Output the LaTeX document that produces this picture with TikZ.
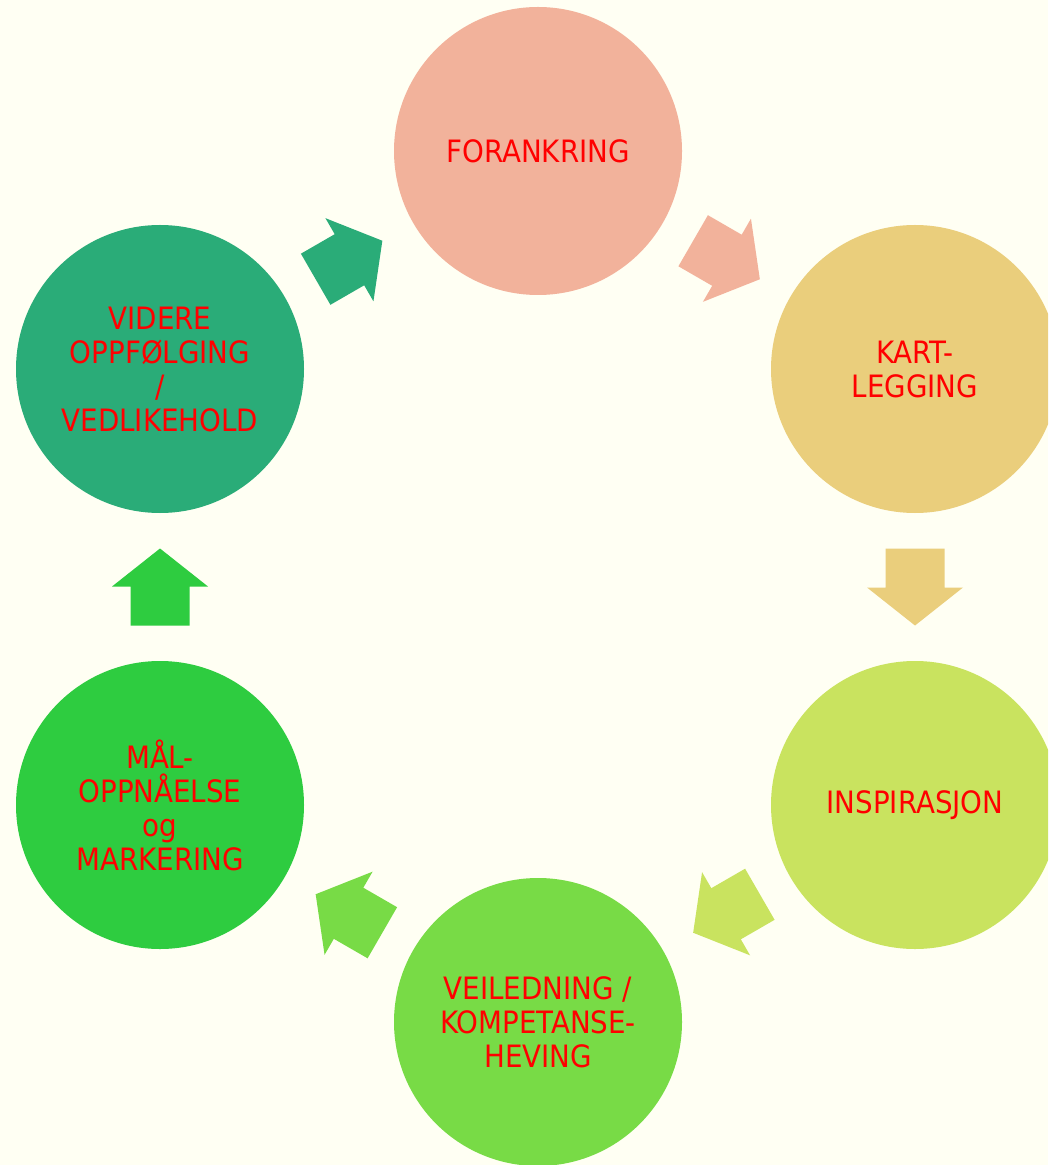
\documentclass[tikz,border=0pt]{standalone}
\usepackage{fontspec}
\setmainfont{DejaVu Sans Condensed}
\usetikzlibrary{calc}
\definecolor{bakgrunn}{HTML}{FFFFF3}
\definecolor{forankring}{HTML}{F2B29B}
\definecolor{kartlegging}{HTML}{EACE7C}
\definecolor{inspirasjon}{HTML}{C9E35F}
\definecolor{veiledning}{HTML}{78DB46}
\definecolor{maal}{HTML}{2ECC40}
\definecolor{videre}{HTML}{2AAC78}
\begin{document}
\begin{tikzpicture}[x=0.5pt,y=-0.5pt,
	sirkel/.style={circle,minimum size=144pt,inner sep=0pt,align=center,text=red,
		font=\fontsize{15.4}{17}\selectfont},
	pil/.pic={\path[pic actions] (-38.5,-29.5) -- (0.5,-29.5) -- (0.5,-48) -- (38.5,0) 
		-- (0.5,48) -- (0.5,29.5) -- (-38.5,29.5) -- cycle;}]
	\clip (0,0) rectangle (1048,1165);
	\fill[bakgrunn] (0,0) rectangle (1048,1165);
	
	%Sirkler
	\node[sirkel,fill=forankring] (forankring) at (538,151) {FORANKRING};
	\node[sirkel,fill=kartlegging] (kartlegging) at (915,369) {KART-\\LEGGING};
	\node[sirkel,fill=inspirasjon] (inspirasjon) at (915,805) {INSPIRASJON};
	\node[sirkel,fill=veiledning] (veiledning) at (538,1022) {VEILEDNING /\\KOMPETANSE-\\HEVING};
	\node[sirkel,fill=maal] (maal) at (160,805) {MÅL-\\OPPNÅELSE\\og\\MARKERING};
	\node[sirkel,fill=videre] (videre) at (160,369) {VIDERE\\OPPFØLGING\\/\\VEDLIKEHOLD};
	
	%Piler
	\pic[fill=forankring,rotate=-30] at ($(forankring)!0.5!(kartlegging)$) {pil};
	\pic[fill=kartlegging,rotate=-90] at ($(kartlegging)!0.5!(inspirasjon)$) {pil};
	\pic[fill=inspirasjon,rotate=-150] at ($(inspirasjon)!0.5!(veiledning)$) {pil};
	\pic[fill=veiledning,rotate=150] at ($(veiledning)!0.5!(maal)$) {pil};
	\pic[fill=maal,rotate=90] at ($(maal)!0.5!(videre)$) {pil};
	\pic[fill=videre,rotate=30] at ($(videre)!0.5!(forankring)$) {pil};
\end{tikzpicture}
\end{document}
